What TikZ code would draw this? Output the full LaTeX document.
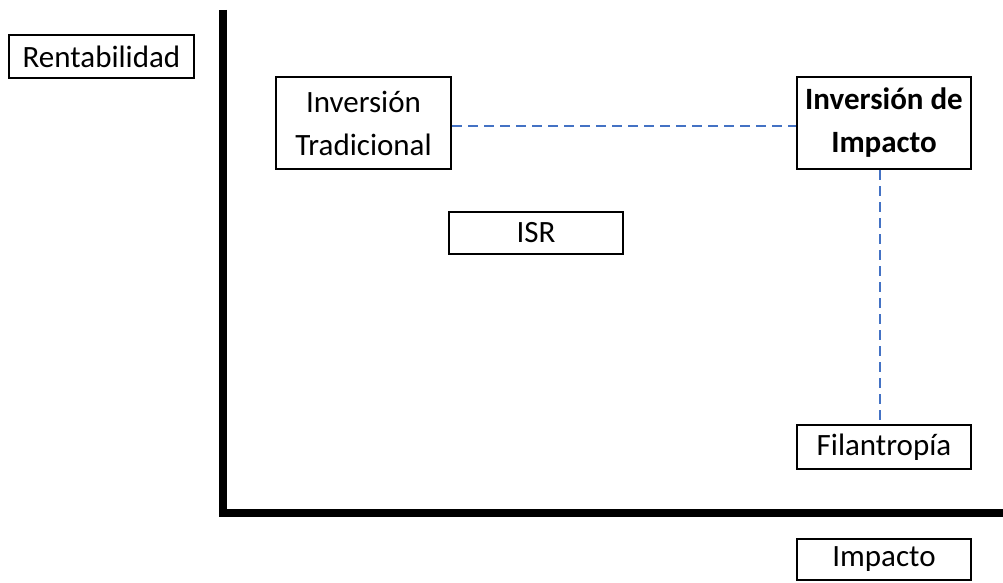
\documentclass[tikz,border=0pt]{standalone}
\usepackage{fontspec}
\setmainfont{Carlito}
\definecolor{dashblue}{HTML}{4472C4}
\begin{document}
\begin{tikzpicture}[x=1pt,y=-1pt,
  box/.style={draw=black, line width=2pt, inner sep=0pt, align=center,
    font=\fontsize{31}{43}\selectfont},
  axis/.style={line width=8pt, line join=miter},
  link/.style={draw=dashblue, line width=1.6pt, dash pattern=on 10pt off 6pt}]
\useasboundingbox (0,0) rectangle (1003,583);
% axes
\coordinate (ytop) at (223,10);
\coordinate (xend) at (1003,513);
\draw[axis] (ytop) |- (xend);
% nodes
\node[box, minimum width=185pt, minimum height=43pt] (rent) at (101.5,56.5) {Rentabilidad};
\node[box, minimum width=175pt, minimum height=92pt] (trad) at (363.5,123) {Inversión\\Tradicional};
\node[box, minimum width=174pt, minimum height=92pt, font=\fontsize{31}{43}\selectfont\bfseries] (imp) at (884,123) {Inversión de\\Impacto};
\node[box, minimum width=174pt, minimum height=42pt] (isr) at (536,233) {ISR};
\node[box, minimum width=174pt, minimum height=44pt] (fil) at (884,447) {Filantropía};
\node[box, minimum width=174pt, minimum height=41pt] (impacto) at (884,559.5) {Impacto};
% dashed connectors
\draw[link] ([yshift=-3pt]trad.east) -- ([yshift=-3pt]imp.west);
\draw[link] ([xshift=-4pt]imp.south) -- ([xshift=-4pt]fil.north);
\end{tikzpicture}
\end{document}
